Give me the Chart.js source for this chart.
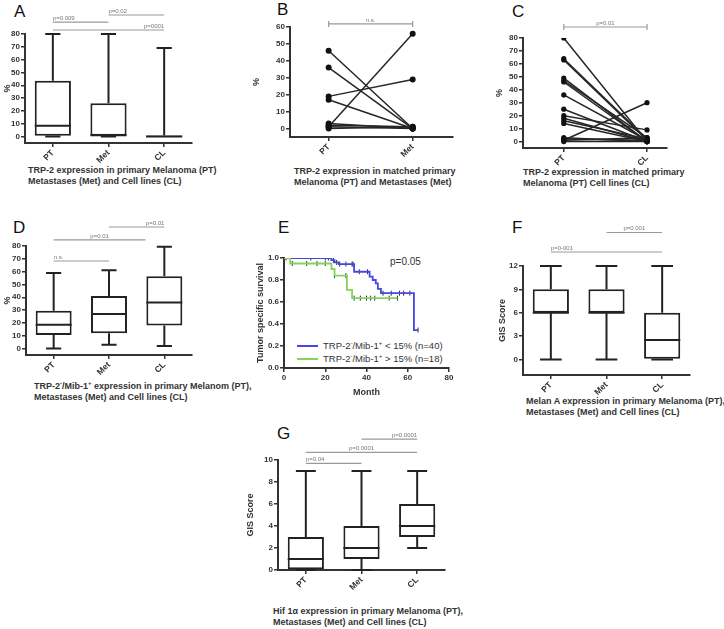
<!DOCTYPE html>
<html>
<head>
<meta charset="utf-8">
<script src="https://cdn.jsdelivr.net/npm/chart.js@4.4.1/dist/chart.umd.min.js"></script>
<style>
body { margin: 0; background: #fff; width: 724px; height: 629px; position: relative; overflow: hidden;
       font-family: "Liberation Sans", Arial, sans-serif; }
.lt { position: absolute; font-size: 17px; line-height: 17px; color: #111; }
.cap { position: absolute; font-size: 9px; font-weight: bold; color: #333; line-height: 11px; white-space: nowrap; }
.cap sup { font-size: 6px; line-height: 0; }
.leg { position: absolute; font-size: 9.5px; color: #333; white-space: nowrap; line-height: 12px; }
.leg i { display: inline-block; width: 21px; height: 2px; vertical-align: middle; margin-right: 5px; position: relative; top: -1px; }
</style>
</head>
<body>
<div class="lt" style="left:14px;top:3px">A</div>
<div class="lt" style="left:277px;top:1px">B</div>
<div class="lt" style="left:512px;top:3px">C</div>
<div class="lt" style="left:13px;top:219px">D</div>
<div class="lt" style="left:278px;top:219px">E</div>
<div class="lt" style="left:512px;top:219px">F</div>
<div class="lt" style="left:277px;top:425px">G</div>

<div class="cap" style="left:28px;top:165px">TRP-2 expression in primary Melanoma (PT)<br>Metastases (Met) and Cell lines (CL)</div>
<div class="cap" style="left:294px;top:166px">TRP-2 expression in matched primary<br>Melanoma (PT) and Metastases (Met)</div>
<div class="cap" style="left:523px;top:167px">TRP-2 expression in matched primary<br>Melanoma (PT) Cell lines (CL)</div>
<div class="cap" style="left:34px;top:381px">TRP-2<sup>-</sup>/Mib-1<sup>+</sup> expression in primary Melanom (PT),<br>Metastases (Met) and Cell lines (CL)</div>
<div class="cap" style="left:526px;top:396px">Melan A expression in primary Melanoma (PT),<br>Metastases (Met) and Cell lines (CL)</div>
<div class="cap" style="left:273px;top:606px">Hif 1&alpha; expression in primary Melanoma (PT),<br>Metastases (Met) and Cell lines (CL)</div>

<div class="leg" style="left:297px;top:337px"><i style="background:#4646e6"></i>TRP-2<sup style="font-size:6px">-</sup>/Mib-1<sup style="font-size:6px">+</sup> &lt; 15% (n=40)</div>
<div class="leg" style="left:297px;top:350px"><i style="background:#86d35a"></i>TRP-2<sup style="font-size:6px">-</sup>/Mib-1<sup style="font-size:6px">+</sup> &gt; 15% (n=18)</div>
<div class="leg" style="left:390px;top:256px;font-size:10px">p=0.05</div>

<script>
// ---- data ----
var groups = ['PT', 'Met', 'CL'];

// box stats per group: [min, q1, median, q3, max]
var aStats = [[0, 0, 8.5, 43.5, 80], [0, 0, 1, 26, 80], [0, 0, 0, 1, 69]];
var aSigText = ['p=0.009', 'p=0.02', 'p=0001'];
var aSigPairs = [[0, 1], [1, 2], [0, 2]];

var bPT = [46, 36, 19, 17, 3, 2, 1, 1, 0];
var bMet = [0, 0, 29, 0, 0, 1, 0, 56, 1];
var bSigText = ['n.s.'];

var cPT = [80, 64, 63, 49, 47, 46, 36, 25, 20, 18, 16, 14, 3, 2, 1, 1, 0];
var cCL = [0, 2, 1, 0, 3, 0, 1, 0, 9, 0, 2, 0, 0, 1, 30, 3, 0];
var cSigText = ['p=0.01'];

var dStats = [[0, 10.5, 18.5, 29.5, 59], [3, 12, 27, 41, 61], [2, 18, 36, 56.5, 79.5]];
var dSigText = ['n.s.', 'p=0.01', 'p=0.01'];
var dSigPairs = [[0, 1], [0, 1.66], [1, 2]];

// Kaplan-Meier: event times (months) and survival
var lowMonths = [0, 23, 24.5, 26.5, 34, 41.5, 43, 44.5, 45.5, 47, 63, 65];
var lowSurv = [1, 0.98, 0.96, 0.945, 0.875, 0.83, 0.8, 0.77, 0.72, 0.68, 0.345, 0.345];
var lowCensored = [1, 13, 20, 21.5, 24, 25.5, 27, 30, 33, 33.5, 36.5, 40.5, 48, 52, 56, 58, 61, 65];
var highMonths = [0, 3, 23, 24.5, 30.5, 33, 55];
var highSurv = [1, 0.95, 0.9, 0.84, 0.71, 0.635, 0.635];
var highCensored = [0, 4, 11, 16, 20, 24.5, 30, 34, 37, 40, 42, 44, 51, 55];

var fStats = [[0, 6, 6, 9, 12], [0, 6, 6, 9, 12], [0, 0, 2.5, 6, 12]];
var fSigText = ['p=0.001', 'p=0-001'];
var fSigPairs = [[1, 2], [0, 2]];

var gStats = [[0, 0, 1, 3, 9], [0, 1, 2, 4, 9], [2, 3, 4, 6, 9]];
var gSigText = ['p=0.04', 'p=0.0001', 'p=0.0001'];
var gSigPairs = [[0, 1], [0, 2], [1, 2]];

// ---- style ----
Chart.defaults.font.family = "'Liberation Sans', Arial, sans-serif";
Chart.defaults.color = '#333';
Chart.defaults.animation = false;
var tickFont = { size: 8, weight: 'bold' };
var titleFont = { size: 9, weight: 'bold' };

// whiskers + median on top of the floating bars
var boxPlugin = {
    id: 'boxes',
    afterDatasetsDraw: function(chart, args, opts) {
        if (!opts.stats) return;
        var y = chart.scales.y, ctx = chart.ctx;
        var meta = chart.getDatasetMeta(0);
        ctx.save();
        ctx.strokeStyle = '#222';
        ctx.lineWidth = 2;
        opts.stats.forEach(function(s, i) {
            var bar = meta.data[i];
            var cx = bar.x, half = bar.width / 2, cap = half * opts.cap;
            var pMin = y.getPixelForValue(s[0]), pQ1 = y.getPixelForValue(s[1]);
            var pMed = y.getPixelForValue(s[2]), pQ3 = y.getPixelForValue(s[3]);
            var pMax = y.getPixelForValue(s[4]);
            ctx.beginPath();
            ctx.moveTo(cx, pQ3); ctx.lineTo(cx, pMax);
            ctx.moveTo(cx - cap, pMax); ctx.lineTo(cx + cap, pMax);
            ctx.moveTo(cx, pQ1); ctx.lineTo(cx, pMin);
            ctx.moveTo(cx - cap, pMin); ctx.lineTo(cx + cap, pMin);
            ctx.moveTo(cx - half, pMed); ctx.lineTo(cx + half, pMed);
            ctx.stroke();
        });
        ctx.restore();
    }
};

// significance bars above the plot
var sigPlugin = {
    id: 'sig',
    afterDraw: function(chart, args, opts) {
        if (!opts.items) return;
        var x = chart.scales.x, y = chart.scales.y, ctx = chart.ctx;
        ctx.save();
        opts.items.forEach(function(it) {
            var x1 = x.getPixelForValue(it.from), x2 = x.getPixelForValue(it.to);
            var py = y.getPixelForValue(it.level);
            ctx.strokeStyle = '#9a9a9a';
            ctx.lineWidth = 1.2;
            ctx.beginPath();
            ctx.moveTo(x1, py); ctx.lineTo(x2, py);
            if (opts.caps) {
                ctx.moveTo(x1, py - 3); ctx.lineTo(x1, py + 3);
                ctx.moveTo(x2, py - 3); ctx.lineTo(x2, py + 3);
            }
            ctx.stroke();
            ctx.fillStyle = '#777';
            ctx.font = "6px 'Liberation Sans', Arial";
            ctx.textBaseline = 'bottom';
            ctx.textAlign = it.align;
            var tx = it.align === 'left' ? x1 : (it.align === 'right' ? x2 : (x1 + x2) / 2);
            ctx.fillText(it.text, tx, py - 1);
        });
        ctx.restore();
    }
};

function sigItems(texts, pairs, levels, aligns) {
    return texts.map(function(t, i) {
        return { text: t, from: pairs[i][0], to: pairs[i][1], level: levels[i], align: aligns[i] };
    });
}

function yAxis(min, max, step, title) {
    return {
        min: min, max: max,
        border: { color: '#333', width: 2 },
        grid: { drawOnChartArea: false, tickLength: 4, color: '#333', lineWidth: 1.5 },
        ticks: { font: tickFont, padding: 1, color: '#333' },
        afterBuildTicks: function(ax) {
            var t = [];
            for (var v = 0; v <= max + 1e-9; v += step) t.push({ value: v });
            ax.ticks = t;
        },
        title: { display: !!title, text: title, font: titleFont, color: '#333', padding: 0 }
    };
}

function xCat() {
    return {
        offset: true,
        border: { color: '#333', width: 2 },
        grid: { drawOnChartArea: false, offset: false, tickLength: 4, color: '#333', lineWidth: 1.5 },
        ticks: { font: { size: 8.5, weight: 'bold' }, minRotation: 45, maxRotation: 45, padding: 1, color: '#333' }
    };
}

function xPair(min, max, names) {
    return {
        type: 'linear', min: min, max: max,
        border: { color: '#333', width: 2 },
        grid: { drawOnChartArea: false, tickLength: 4, color: '#333', lineWidth: 1.5 },
        afterBuildTicks: function(ax) { ax.ticks = [{ value: 0 }, { value: 1 }]; },
        ticks: {
            font: { size: 8.5, weight: 'bold' }, minRotation: 45, maxRotation: 45, padding: 1, color: '#333',
            callback: function(v) { return names[v]; }
        }
    };
}

function panel(area, yW, xH, padT, padR, config) {
    var c = document.createElement('canvas');
    var w = area.r - area.l + yW + padR, h = area.b - area.t + padT + xH;
    c.width = w; c.height = h;
    c.style.cssText = 'position:absolute;left:' + (area.l - yW) + 'px;top:' + (area.t - padT) +
        'px;width:' + w + 'px;height:' + h + 'px';
    document.body.appendChild(c);
    config.options.responsive = false;
    config.options.layout = { padding: { top: padT, right: padR, left: 0, bottom: 0 } };
    config.options.scales.y.afterFit = function(s) { s.width = yW; };
    config.options.scales.x.afterFit = function(s) { s.height = xH; };
    return new Chart(c, config);
}

function boxConfig(stats, y, cap, sig) {
    return {
        type: 'bar',
        data: {
            labels: groups,
            datasets: [{
                data: stats.map(function(s) { return [s[1], s[3]]; }),
                backgroundColor: '#fff', borderColor: '#222', borderWidth: 2,
                borderSkipped: false, barPercentage: 0.65, categoryPercentage: 1
            }]
        },
        options: {
            plugins: {
                legend: { display: false }, tooltip: { enabled: false },
                boxes: { stats: stats, cap: cap }, sig: { items: sig }
            },
            scales: { x: xCat(), y: y }
        },
        plugins: [boxPlugin, sigPlugin]
    };
}

function pairConfig(left, right, names, xr, y, sig, radius) {
    var sets = left.map(function(v, i) {
        return {
            data: [{ x: 0, y: v }, { x: 1, y: right[i] }],
            showLine: true, borderColor: '#262626', borderWidth: 1.5,
            pointRadius: radius, pointBorderWidth: 0, pointBackgroundColor: '#111'
        };
    });
    return {
        type: 'scatter',
        data: { datasets: sets },
        options: {
            plugins: { legend: { display: false }, tooltip: { enabled: false }, sig: { items: sig, caps: true } },
            scales: { x: xPair(xr[0], xr[1], names), y: y }
        },
        plugins: [sigPlugin]
    };
}

// A
panel({ l: 25, r: 192, t: 34, b: 143 }, 23, 26, 28, 4,
    boxConfig(aStats, yAxis(-5, 80, 10, '%'), 0.42,
        sigItems(aSigText, aSigPairs, [89.3, 94.8, 83.1], ['left', 'left', 'right'])));

// B
panel({ l: 290, r: 453, t: 27, b: 137 }, 39, 26, 12, 4,
    pairConfig(bPT, bMet, ['PT', 'Met'], [-0.46, 1.48], yAxis(-5, 60, 10, '%'),
        sigItems(bSigText, [[0, 1]], [61.8], ['center']), 3));

// C
panel({ l: 523, r: 667, t: 38, b: 148 }, 29, 26, 18, 4,
    pairConfig(cPT, cCL, ['PT', 'CL'], [-0.49, 1.24], yAxis(-5, 80, 10, '%'),
        sigItems(cSigText, [[0, 1]], [88.5], ['center']), 2.6));

// D
panel({ l: 26, r: 192, t: 246, b: 355 }, 24, 26, 28, 4,
    boxConfig(dStats, yAxis(-5, 80, 10, '%'), 0.42,
        sigItems(dSigText, dSigPairs, [68.3, 84.7, 94.8], ['left', 'center', 'right'])));

// E: Kaplan-Meier
function survAt(months, surv, t) {
    var s = surv[0];
    for (var i = 0; i < months.length; i++) { if (months[i] <= t) s = surv[i]; }
    return s;
}
function kmLine(months, surv, color) {
    return {
        data: months.map(function(m, i) { return { x: m, y: surv[i] }; }),
        stepped: true, borderColor: color, borderWidth: 1.8, pointRadius: 0, fill: false
    };
}
function kmCens(times, months, surv) {
    return {
        data: times.map(function(t) { return { x: t, y: survAt(months, surv, t) }; }),
        showLine: false, pointStyle: 'line', rotation: 90, pointRadius: 2.5,
        borderColor: '#333', borderWidth: 1
    };
}
panel({ l: 284, r: 449, t: 258, b: 368 }, 29, 30, 8, 8, {
    type: 'line',
    data: {
        datasets: [
            kmLine(highMonths, highSurv, '#86d35a'),
            kmLine(lowMonths, lowSurv, '#4646e6'),
            kmCens(highCensored, highMonths, highSurv),
            kmCens(lowCensored, lowMonths, lowSurv)
        ]
    },
    options: {
        plugins: { legend: { display: false }, tooltip: { enabled: false } },
        scales: {
            x: {
                type: 'linear', min: 0, max: 80,
                border: { color: '#333', width: 2 },
                grid: { drawOnChartArea: false, tickLength: 4, color: '#333', lineWidth: 1.5 },
                ticks: { stepSize: 20, font: tickFont, padding: 1, color: '#333' },
                title: { display: true, text: 'Month', font: titleFont, color: '#333', padding: { top: 3, bottom: 0 } }
            },
            y: {
                min: 0, max: 1,
                border: { color: '#333', width: 2 },
                grid: { drawOnChartArea: false, tickLength: 4, color: '#333', lineWidth: 1.5 },
                ticks: { stepSize: 0.2, font: tickFont, padding: 1, color: '#333',
                    callback: function(v) { return v.toFixed(1); } },
                title: { display: true, text: 'Tumor specific survival', font: titleFont, color: '#333', padding: 0 }
            }
        }
    }
});

// F
panel({ l: 523, r: 690, t: 266, b: 375 }, 26, 26, 40, 4,
    boxConfig(fStats, yAxis(-2, 12, 3, 'GIS Score'), 0.6,
        sigItems(fSigText, fSigPairs, [16.3, 13.8], ['center', 'left'])));

// G
panel({ l: 278, r: 445, t: 460, b: 570 }, 33, 26, 28, 4,
    boxConfig(gStats, yAxis(0, 10, 2, 'GIS Score'), 0.55,
        sigItems(gSigText, gSigPairs, [9.7, 10.7, 11.9], ['left', 'center', 'right'])));
</script>
</body>
</html>
